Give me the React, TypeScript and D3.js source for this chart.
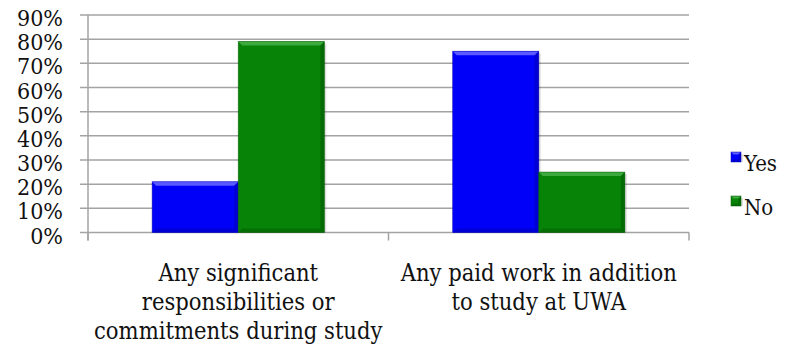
import React from "react";
import * as d3 from "d3";

const categories = [
  ["Any significant", "responsibilities or", "commitments during study"],
  ["Any paid work in addition", "to study at UWA"],
];
const seriesNames = ["Yes", "No"];
const yesValues = [21, 75];
const noValues = [79, 25];
const yTicks = [0, 10, 20, 30, 40, 50, 60, 70, 80, 90];

const W = 792;
const H = 349;
const plot = { left: 88, right: 689, top: 15, bottom: 232.5 };
const FONT = "'DejaVu Serif Condensed', 'DejaVu Serif', 'Liberation Serif', 'Times New Roman', serif";

const palette = {
  Yes: { base: "#0000f8", light: "#5a5aff", dark: "#0000b0" },
  No: { base: "#078307", light: "#3eaa3e", dark: "#045a04" },
};

function BevelBar({ x, y, w, h, c }: { x: number; y: number; w: number; h: number; c: { base: string; light: string; dark: string } }) {
  const b = Math.min(4, w / 4, h / 4);
  return (
    <g>
      <rect x={x + 2} y={y + 2} width={w} height={h - 2} fill="#000" opacity={0.12} />
      <rect x={x} y={y} width={w} height={h} fill={c.base} />
      <polygon points={`${x},${y} ${x + w},${y} ${x + w - b},${y + b} ${x + b},${y + b}`} fill={c.light} />
      <polygon points={`${x + w},${y} ${x + w - b},${y + b} ${x + w - b},${y + h - b} ${x + w},${y + h}`} fill={c.dark} opacity={0.55} />
      <polygon points={`${x},${y + h} ${x + b},${y + h - b} ${x + w - b},${y + h - b} ${x + w},${y + h}`} fill={c.dark} opacity={0.5} />
      <rect x={x} y={y} width={w} height={h} fill="none" stroke={c.dark} strokeWidth={0.8} strokeOpacity={0.6} />
    </g>
  );
}

export default function App() {
  const y = d3.scaleLinear().domain([0, 90]).range([plot.bottom, plot.top]);
  const x0 = d3.scaleBand<number>().domain(d3.range(categories.length)).range([plot.left, plot.right]).paddingInner(0).paddingOuter(0);
  const x1 = d3.scaleBand<string>().domain(seriesNames).range([0, x0.bandwidth()]).paddingInner(0).paddingOuter(0.745);
  const values: Record<string, number[]> = { Yes: yesValues, No: noValues };
  const grid = "#a3a3a3";

  return (
    <svg
      width={W}
      height={H}
      style={{ position: "absolute", left: 0, top: 0, background: "#fff", fontFamily: FONT, fontStretch: "condensed" }}
    >
      {yTicks.map((t) => (
        <g key={t}>
          <line x1={plot.left - 8} x2={plot.right} y1={y(t)} y2={y(t)} stroke={grid} strokeWidth={1.5} />
          <text x={63} y={y(t) + 11} textAnchor="end" fontSize={23} fill="#111">
            {t}%
          </text>
        </g>
      ))}
      <line x1={plot.left} x2={plot.left} y1={plot.top} y2={plot.bottom + 8} stroke={grid} strokeWidth={1.5} />
      {d3.range(categories.length + 1).map((i) => {
        const xx = i < categories.length ? x0(i)! : plot.right;
        return <line key={i} x1={xx} x2={xx} y1={plot.bottom} y2={plot.bottom + 8} stroke={grid} strokeWidth={1.5} />;
      })}
      {categories.map((_, ci) =>
        seriesNames.map((s) => {
          const v = values[s][ci];
          const bx = x0(ci)! + x1(s)!;
          return <BevelBar key={s + ci} x={bx} y={y(v)} w={x1.bandwidth()} h={y(0) - y(v)} c={palette[s as "Yes" | "No"]} />;
        })
      )}
      {categories.map((lines, ci) => (
        <text key={ci} x={x0(ci)! + x0.bandwidth() / 2} textAnchor="middle" fontSize={23.5} fill="#111">
          {lines.map((ln, li) => (
            <tspan key={li} x={x0(ci)! + x0.bandwidth() / 2} y={281 + li * 29}>
              {ln}
            </tspan>
          ))}
        </text>
      ))}
      {seriesNames.map((s, i) => {
        const cy = 157 + i * 44;
        const c = palette[s as "Yes" | "No"];
        return (
          <g key={s}>
            <BevelBar x={731} y={cy - 5} w={10} h={10} c={c} />
            <text x={744} y={cy + 14} fontSize={22} fill="#111">
              {s}
            </text>
          </g>
        );
      })}
    </svg>
  );
}
